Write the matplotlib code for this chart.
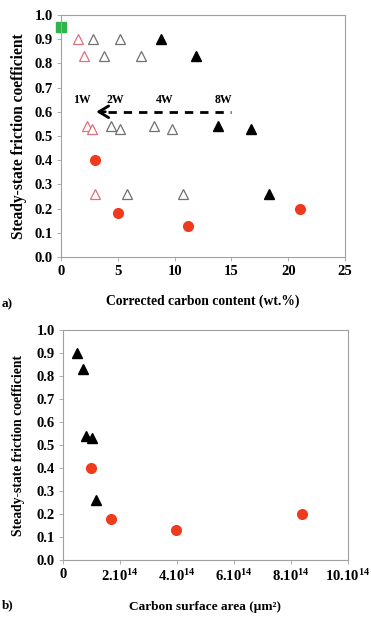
import matplotlib
matplotlib.use("Agg")
import matplotlib.pyplot as plt

plt.rcParams['font.family'] = ['Liberation Serif', 'DejaVu Serif']
plt.rcParams['font.weight'] = 'bold'
plt.rcParams['mathtext.default'] = 'regular'

# panel a: friction vs corrected carbon content
green_x = [0.0]
green_y = [0.95]
w1_x = [1.5, 2.0, 2.3, 2.7, 3.0]
w1_y = [0.90, 0.83, 0.54, 0.53, 0.26]
w24_x = [2.8, 5.2, 3.8, 7.0, 4.4, 5.2, 8.2, 9.8, 5.8, 10.7]
w24_y = [0.90, 0.90, 0.83, 0.83, 0.54, 0.53, 0.54, 0.53, 0.26, 0.26]
w8_x = [8.8, 11.9, 13.8, 16.7, 18.3]
w8_y = [0.90, 0.83, 0.54, 0.53, 0.26]
red_x = [3.0, 5.0, 11.2, 21.0]
red_y = [0.40, 0.18, 0.13, 0.20]
week_labels = ['1W', '2W', '4W', '8W']
week_x = [1.85, 4.8, 9.1, 14.3]
week_y = 0.65
arrow_tip = 3.1
arrow_tail = 15.0
arrow_y = 0.6

# panel b: friction vs carbon surface area (um^2)
tri_area = [0.48e14, 0.70e14, 0.81e14, 1.03e14, 1.16e14]
tri_mu = [0.90, 0.83, 0.54, 0.53, 0.26]
circ_area = [0.98e14, 1.68e14, 3.95e14, 8.37e14]
circ_mu = [0.40, 0.18, 0.13, 0.20]
area_ticks = [0, 2e14, 4e14, 6e14, 8e14, 10e14]
area_labels = ['0', '2.10$^{14}$', '4.10$^{14}$', '6.10$^{14}$', '8.10$^{14}$', '10.10$^{14}$']

pink = '#e0707c'
grey = '#707070'
red = '#f03a1e'
green = '#2db54a'

fig = plt.figure(figsize=(3.71, 6.19), dpi=100)
ax1 = fig.add_axes([61/371, 1-257/619, 284/371, 242/619])
ax2 = fig.add_axes([63/371, 1-560/619, 285/371, 230/619])

def style(ax, ylab_size, pad):
    for s in ax.spines.values():
        s.set_color('#a0a0a0')
        s.set_linewidth(0.8)
    ax.tick_params(direction='out', length=3, width=0.6, color='#a0a0a0',
                   labelsize=10.5, pad=3)
    ax.set_ylim(0, 1.0)
    ax.set_yticks([i/10 for i in range(11)])
    ax.set_yticklabels(['%.1f' % (i/10) for i in range(11)])
    ax.set_ylabel('Steady-state friction coefficient', fontsize=ylab_size,
                  fontweight='bold', labelpad=pad)

style(ax1, 11.2, 5)
ax1.plot(green_x, green_y, 's', color=green, ms=6.5, clip_on=False)
ax1.plot(w1_x, w1_y, '^', mfc='white', mec=pink, mew=0.9, ms=7)
ax1.plot(w24_x, w24_y, '^', mfc='white', mec=grey, mew=0.9, ms=7)
ax1.plot(w8_x, w8_y, '^', color='black', ms=6.5)
ax1.plot(red_x, red_y, 'o', color=red, ms=7)
# dashed shaft and open chevron head
ax1.plot([arrow_tip + 1.0, arrow_tail], [arrow_y, arrow_y], color='black',
         lw=2, dashes=(3, 2.5))
ax1.annotate('', xy=(arrow_tip, arrow_y), xytext=(arrow_tip + 0.8, arrow_y),
             arrowprops=dict(arrowstyle='->, head_length=0.5, head_width=0.3',
                             lw=2, color='black', mutation_scale=14,
                             shrinkA=0, shrinkB=0))
for lab, x in zip(week_labels, week_x):
    ax1.text(x, week_y, lab, fontsize=8.5, ha='center', va='center')
ax1.set_xlim(0, 25)
ax1.set_xticks([0, 5, 10, 15, 20, 25])
ax1.set_xlabel('Corrected carbon content (wt.%)', fontsize=9.8, fontweight='bold', labelpad=12)
fig.text(2/371, 1-304/619, 'a)', fontsize=9.5, fontweight='bold', va='center')

style(ax2, 9.8, 8)
ax2.plot(tri_area, tri_mu, '^', color='black', ms=6.5)
ax2.plot(circ_area, circ_mu, 'o', color=red, ms=7)
ax2.set_xlim(0, 10e14)
ax2.set_xticks(area_ticks)
ax2.set_xticklabels(area_labels)
ax2.set_xlabel('Carbon surface area (\u00b5m\u00b2)', fontsize=9.6, fontweight='bold', labelpad=12)
fig.text(2/371, 1-605/619, 'b)', fontsize=9.5, fontweight='bold', va='center')

fig.savefig('out.png', dpi=100)
